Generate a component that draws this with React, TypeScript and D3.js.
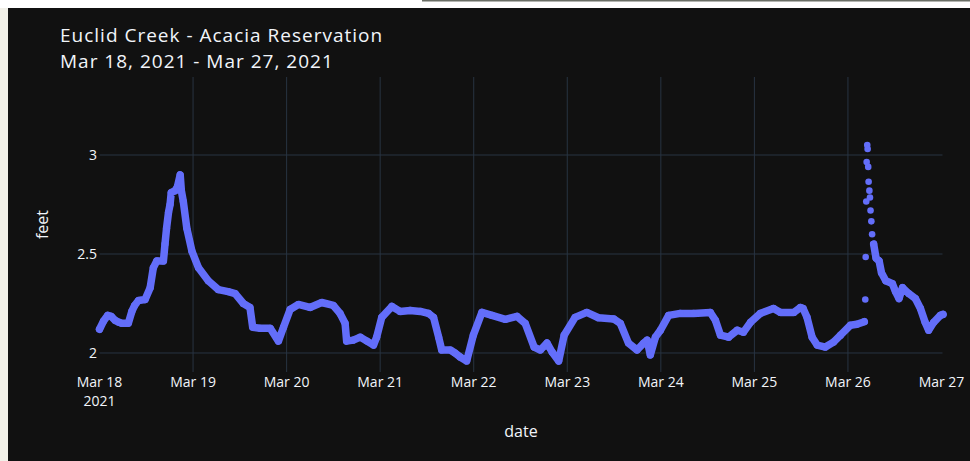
import React from "react";
import * as d3 from "d3";

// ---------- data (hours after Mar 18, 2021 00:00, water level in feet) ----------
const baseHours = [
  0, 1, 2.1, 3, 4, 5, 5.7, 7.4, 8.3, 9, 10, 11.7, 13, 13.8, 14.7, 16.4, 16.8, 17.2, 17.7, 18.1, 18.4,
  19.4, 20, 20.7, 21, 21.5, 22.4, 23.7, 25.4, 27.9, 30.5, 33, 34.8, 36.9, 38.6, 39.3, 41.2, 43.8,
  45.9, 47.2, 48.9, 51, 54, 57, 60, 61.7, 63, 63.4, 65.1, 66.9, 68.6, 70.3, 71.1, 72.4, 75, 77.1,
  79.7, 82.3, 84.4, 85.7, 87, 87.8, 90, 91.2, 92.5, 94.2, 95.9, 98.1, 100.7, 104.1, 107.1, 109.2,
  111.5, 113.1, 114.8, 116.1, 117.8, 119.2, 122, 125, 128, 131.9, 133.6, 135.7, 137.9, 139.6, 140.5,
  141.3, 142.6, 143.9, 146, 149, 152.4, 156.7, 158, 159.3, 161.4, 163.6, 165.2, 167, 169.5, 172.9,
  174.7, 178.1, 179.8, 180.5, 181.5, 182.8, 184.1, 186.2, 188.3, 190.1, 192.6, 194.3, 196.2,
  198.6, 199.2, 200, 200.6, 201.7, 203.4, 204.2, 205.1, 206, 207.6, 209.3, 210.6, 211.8, 212.7,
  214, 215.7, 216.4,
];
const baseFeet = [
  2.12, 2.16, 2.19, 2.185, 2.165, 2.155, 2.15, 2.15, 2.21, 2.24, 2.265, 2.27, 2.33, 2.43, 2.465, 2.465,
  2.55, 2.63, 2.71, 2.75, 2.81, 2.82, 2.84, 2.9, 2.82, 2.765, 2.63, 2.515, 2.43, 2.365, 2.32, 2.31,
  2.3, 2.25, 2.23, 2.13, 2.125, 2.125, 2.06, 2.13, 2.22, 2.245, 2.23, 2.255, 2.24, 2.2, 2.15, 2.06,
  2.065, 2.08, 2.06, 2.04, 2.08, 2.18, 2.235, 2.21, 2.215, 2.21, 2.2, 2.18, 2.08, 2.015, 2.015, 2.0,
  1.98, 1.96, 2.09, 2.205, 2.19, 2.17, 2.185, 2.15, 2.03, 2.015, 2.05, 2.005, 1.96, 2.09, 2.18, 2.205,
  2.178, 2.172, 2.15, 2.05, 2.015, 2.05, 2.065, 1.99, 2.08, 2.115, 2.19, 2.2, 2.2, 2.205, 2.165, 2.09,
  2.08, 2.115, 2.105, 2.155, 2.2, 2.225, 2.205, 2.205, 2.23, 2.225, 2.18, 2.08, 2.04, 2.03, 2.055,
  2.09, 2.14, 2.145, 2.158,
  2.55, 2.48, 2.465, 2.405, 2.365, 2.35, 2.31, 2.275, 2.33, 2.3, 2.275, 2.225, 2.155, 2.115, 2.155,
  2.19, 2.195,
];
// sparse readings during the Mar 26 storm surge
const surgeHours = [196.45, 196.55, 196.7, 196.8, 196.95, 197.05, 197.2, 197.3, 197.5, 197.65, 197.8, 198.0, 198.2];
const surgeFeet = [2.27, 2.485, 2.765, 2.965, 3.05, 3.03, 2.94, 2.865, 2.82, 2.785, 2.72, 2.665, 2.6];

const xTickLabels = ["Mar 18", "Mar 19", "Mar 20", "Mar 21", "Mar 22", "Mar 23", "Mar 24", "Mar 25", "Mar 26", "Mar 27"];
const yTicks = [2, 2.5, 3];
const yTickLabels = ["2", "2.5", "3"];
const titleLines = ["Euclid Creek - Acacia Reservation", "Mar 18, 2021 - Mar 27, 2021"];

// ---------- layout ----------
const W = 970;
const H = 461;
const plot = { left: 99.5, right: 942.5, top: 77, bottom: 372 };
const START = Date.UTC(2021, 2, 18);
const toDate = (h: number) => new Date(START + h * 3600e3);
const FONT = '"Open Sans", verdana, arial, sans-serif';
const TXT = "#f2f5fa";
const GRID = "#283442";
const MARK = "#636efa";

type Pt = { h: number; v: number };

export default function App() {
  const x = d3.scaleUtc().domain([toDate(0), toDate(216)]).range([plot.left, 941.5]);
  const y = d3.scaleLinear().domain([1.904, 3.394]).range([plot.bottom, plot.top]);
  const dayTicks = d3.utcDay.range(toDate(0), toDate(216.01));

  const pts: Pt[] = baseHours.map((h, i) => ({ h, v: baseFeet[i] }));
  // the continuous trace is interrupted where the sparse surge readings take over
  const surgeStart = surgeHours[0];
  const withGaps: (Pt | null)[] = [];
  pts.forEach((p, i) => {
    if (i > 0 && pts[i - 1].h < surgeStart && p.h > surgeStart) withGaps.push(null);
    withGaps.push(p);
  });
  const line = d3
    .line<Pt | null>()
    .defined((d) => d !== null)
    .x((d) => x(toDate(d!.h)))
    .y((d) => y(d!.v));

  return (
    <svg width={W} height={H} style={{ position: "absolute", left: 0, top: 0, display: "block" }}>
      <rect x={0} y={0} width={W} height={H} fill="#f1f0e8" />
      <rect x={0} y={0} width={W} height={8} fill="#ffffff" />
      <rect x={422} y={0} width={W - 422} height={1.5} fill="#6b6f66" />
      <rect x={8} y={8} width={W - 8} height={H - 8} fill="#111111" />

      {/* grid */}
      {yTicks.map((t) => (
        <line key={"gy" + t} x1={plot.left} x2={plot.right} y1={y(t)} y2={y(t)} stroke={GRID} strokeWidth={1} />
      ))}
      {dayTicks.slice(1, -1).map((d, i) => (
        <line key={"gx" + i} x1={x(d)} x2={x(d)} y1={plot.top} y2={plot.bottom} stroke={GRID} strokeWidth={1} />
      ))}

      {/* data */}
      <path
        d={line(withGaps) || ""}
        fill="none"
        stroke={MARK}
        strokeWidth={7.5}
        strokeLinejoin="round"
        strokeLinecap="round"
      />
      {pts.map((p, i) => (
        <circle key={"p" + i} cx={x(toDate(p.h))} cy={y(p.v)} r={3.6} fill={MARK} />
      ))}
      {surgeHours.map((h, i) => (
        <circle key={"s" + i} cx={x(toDate(h))} cy={y(surgeFeet[i])} r={3.3} fill={MARK} />
      ))}

      {/* y tick labels */}
      {yTicks.map((t, i) => (
        <text key={"yl" + t} x={97} y={y(t)} dy="0.35em" textAnchor="end" fill={TXT} fontFamily={FONT} fontSize={14}>
          {yTickLabels[i]}
        </text>
      ))}
      {/* x tick labels */}
      {dayTicks.map((d, i) => (
        <text key={"xl" + i} x={x(d)} y={387} textAnchor="middle" fill={TXT} fontFamily={FONT} fontSize={14}>
          {xTickLabels[i]}
        </text>
      ))}
      <text x={x(dayTicks[0])} y={406} textAnchor="middle" fill={TXT} fontFamily={FONT} fontSize={14}>
        2021
      </text>

      {/* axis titles */}
      <text x={(plot.left + plot.right) / 2} y={437} textAnchor="middle" fill={TXT} fontFamily={FONT} fontSize={16}>
        date
      </text>
      <text
        transform={`translate(48,${(plot.top + plot.bottom) / 2}) rotate(-90)`}
        textAnchor="middle"
        fill={TXT}
        fontFamily={FONT}
        fontSize={16}
      >
        feet
      </text>

      {/* title */}
      {titleLines.map((t, i) => (
        <text key={"t" + i} x={60} y={41.5 + i * 26} fill={TXT} fontFamily={FONT} fontSize={19} letterSpacing={1}>
          {t}
        </text>
      ))}
    </svg>
  );
}
